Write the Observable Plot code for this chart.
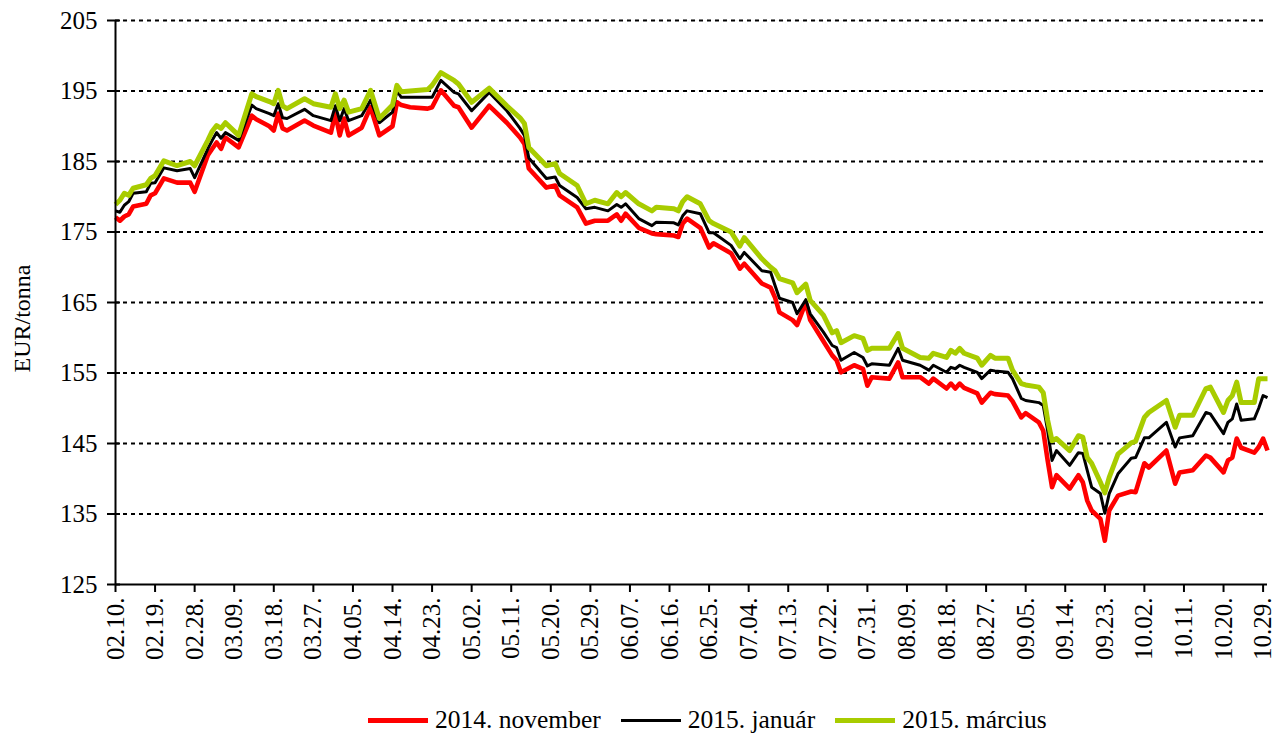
<!DOCTYPE html>
<html>
<head>
<meta charset="utf-8">
<script src="https://cdn.jsdelivr.net/npm/d3@7"></script>
<script src="https://cdn.jsdelivr.net/npm/@observablehq/plot@0.6"></script>
<style>
  html, body { margin: 0; padding: 0; background: #fff; }
  body { font-family: "Liberation Serif", "Times New Roman", serif; width: 1281px; }
  #legend { display: flex; align-items: center; height: 32px; padding-left: 368px; font-size: 25.5px; color: #000; }
  .item { display: flex; align-items: center; margin-right: 20px; }
  .sw { width: 60px; margin-right: 7px; }
</style>
</head>
<body>
<div id="chart"></div>
<div id="legend"></div>
<script>
const seriesNames = ["2014. november", "2015. január", "2015. március"];
const seriesColors = ["#ff0000", "#000000", "#a8cc00"];
const seriesWidths = [4.6, 3, 5];

const dates = [
  "2014-02-10","2014-02-11","2014-02-12","2014-02-13","2014-02-14","2014-02-17","2014-02-18","2014-02-19","2014-02-21","2014-02-24","2014-02-27","2014-02-28",
  "2014-03-03","2014-03-04","2014-03-05","2014-03-06","2014-03-07","2014-03-10","2014-03-13","2014-03-14","2014-03-17","2014-03-18","2014-03-19","2014-03-20","2014-03-21","2014-03-25","2014-03-27","2014-03-31",
  "2014-04-01","2014-04-02","2014-04-03","2014-04-04","2014-04-07","2014-04-09","2014-04-11","2014-04-14","2014-04-15","2014-04-16","2014-04-18","2014-04-22","2014-04-23","2014-04-25","2014-04-28","2014-04-29",
  "2014-05-02","2014-05-06","2014-05-10","2014-05-13","2014-05-14","2014-05-15","2014-05-19","2014-05-21","2014-05-22","2014-05-26","2014-05-28","2014-05-30",
  "2014-06-02","2014-06-04","2014-06-05","2014-06-06","2014-06-09","2014-06-12","2014-06-13","2014-06-17","2014-06-18","2014-06-19","2014-06-20","2014-06-23","2014-06-25","2014-06-26","2014-06-30",
  "2014-07-02","2014-07-03","2014-07-07","2014-07-09","2014-07-10","2014-07-11","2014-07-14","2014-07-15","2014-07-17","2014-07-18","2014-07-21","2014-07-23","2014-07-24","2014-07-25","2014-07-28","2014-07-30","2014-07-31",
  "2014-08-01","2014-08-05","2014-08-07","2014-08-08","2014-08-12","2014-08-14","2014-08-15","2014-08-18","2014-08-19","2014-08-20","2014-08-21","2014-08-22","2014-08-25","2014-08-26","2014-08-28","2014-08-29",
  "2014-09-01","2014-09-02","2014-09-04","2014-09-05","2014-09-08","2014-09-09","2014-09-10","2014-09-11","2014-09-12","2014-09-15","2014-09-17","2014-09-18","2014-09-19","2014-09-20","2014-09-22","2014-09-23","2014-09-24","2014-09-26","2014-09-29","2014-09-30",
  "2014-10-02","2014-10-03","2014-10-07","2014-10-09","2014-10-10","2014-10-13","2014-10-16","2014-10-17","2014-10-20","2014-10-21","2014-10-22","2014-10-23","2014-10-24","2014-10-27","2014-10-28","2014-10-29","2014-10-30"
];

const nov2014 = [
  177.1,176.6,177.2,177.5,178.6,179.0,180.2,180.5,182.6,182.0,182.0,180.7,
  185.9,186.8,187.7,186.8,188.4,187.0,191.5,191.0,190.0,189.4,191.8,189.7,189.4,190.8,190.1,189.1,
  191.8,188.7,191.1,188.7,189.8,192.7,188.7,190.0,193.4,193.0,192.7,192.5,192.7,195.1,192.9,192.7,
  189.8,192.9,190.5,188.4,187.5,184.0,181.3,181.6,180.2,178.5,176.2,176.6,
  176.6,177.5,176.6,177.6,175.6,174.8,174.7,174.5,174.3,176.2,176.9,175.6,172.8,173.4,172.0,
  169.8,170.5,167.7,167.1,165.7,163.6,162.5,161.8,165.0,162.5,159.5,157.5,156.8,155.1,156.1,155.6,153.2,
  154.4,154.2,156.5,154.4,154.4,153.5,154.2,152.8,153.5,152.8,153.5,152.9,152.1,150.8,152.2,152.0,
  151.8,151.0,148.7,149.3,148.0,146.8,142.6,138.8,140.5,138.6,140.5,139.5,136.9,135.5,134.3,131.2,135.5,137.6,138.2,138.1,
  142.2,141.6,144.0,139.3,140.9,141.2,143.3,143.0,140.9,142.6,143.0,145.7,144.4,143.7,144.5,145.7,144.0
];

const jan2015 = [
  178.0,177.8,178.8,179.3,180.5,180.7,181.9,182.0,184.1,183.7,184.0,182.7,
  186.8,188.0,189.1,188.3,189.1,188.0,193.0,192.5,191.8,191.5,193.2,191.2,191.1,192.4,191.5,190.8,
  192.9,190.8,192.5,190.8,191.5,193.7,190.5,192.0,195.0,194.1,194.1,194.1,194.1,196.5,194.8,194.6,
  192.2,194.8,192.2,189.7,188.7,185.5,182.6,182.8,181.6,179.9,178.3,178.5,
  178.0,178.9,178.5,179.0,176.9,175.9,176.4,176.3,176.0,177.3,178.0,177.6,174.9,174.9,173.1,
  171.2,172.1,169.5,169.3,167.4,165.6,165.0,163.4,165.4,163.4,160.8,158.9,158.6,156.8,157.9,157.2,156.0,
  156.3,156.1,158.5,156.8,156.1,155.4,156.1,155.1,155.8,155.6,156.1,155.8,155.1,154.2,155.4,155.3,
  155.1,154.2,151.4,151.1,150.8,150.4,146.8,142.6,144.0,141.9,143.7,143.6,141.2,138.8,137.9,135.1,137.9,140.7,142.9,143.0,
  145.8,145.8,148.0,144.5,145.8,146.1,149.4,149.2,146.4,148.0,148.5,150.6,148.3,148.5,150.0,151.8,151.5
];

const mar2015 = [
  178.9,179.5,180.5,180.2,181.2,181.7,182.6,183.0,185.1,184.4,185.0,184.4,
  188.0,189.3,190.1,189.7,190.5,188.7,194.6,194.2,193.5,193.2,195.1,192.9,192.5,193.9,193.2,192.7,
  194.6,192.5,193.7,192.0,192.5,195.1,191.1,193.0,195.8,194.9,195.0,195.2,195.8,197.6,196.5,196.0,
  193.4,195.4,192.9,191.2,190.4,187.0,184.4,184.7,183.3,181.6,179.0,179.5,
  179.0,180.6,180.0,180.6,179.0,178.0,178.5,178.3,178.0,179.3,180.0,179.0,176.6,176.2,175.0,
  173.0,174.2,171.2,170.0,169.5,168.4,167.8,166.4,167.6,165.3,163.2,160.7,161.0,159.3,160.3,159.9,158.2,
  158.5,158.5,160.6,158.5,157.2,157.1,157.8,157.2,158.2,157.8,158.5,157.8,157.1,156.1,157.5,157.1,
  157.1,155.4,153.5,153.3,153.0,152.2,148.3,145.4,145.7,144.0,146.1,145.9,143.0,142.2,139.5,138.0,140.2,143.5,145.1,145.3,
  148.7,149.4,151.1,147.3,149.0,149.0,152.8,153.0,149.4,151.1,151.8,153.7,150.8,150.8,154.2,154.2,154.2
];

const yTicks = [125, 135, 145, 155, 165, 175, 185, 195, 205];
const gridValues = [135, 145, 155, 165, 175, 185, 195, 205];
const xTickDates = [
  "2014-02-10","2014-02-19","2014-02-28","2014-03-09","2014-03-18","2014-03-27","2014-04-05","2014-04-14","2014-04-23","2014-05-02",
  "2014-05-11","2014-05-20","2014-05-29","2014-06-07","2014-06-16","2014-06-25","2014-07-04","2014-07-13","2014-07-22","2014-07-31",
  "2014-08-09","2014-08-18","2014-08-27","2014-09-05","2014-09-14","2014-09-23","2014-10-02","2014-10-11","2014-10-20","2014-10-29"
];
const xDomain = ["2014-02-10", "2014-10-30"];
const yLabel = "EUR/tonna";

const parseDate = d3.utcParse("%Y-%m-%d");
const seriesValues = [nov2014, jan2015, mar2015];
const lineMarks = seriesNames.map((name, i) =>
  Plot.line(dates.map((d, j) => ({date: parseDate(d), value: seriesValues[i][j]})), {
    x: "date", y: "value", stroke: seriesColors[i], strokeWidth: seriesWidths[i],
    strokeLinejoin: "round", strokeLinecap: "butt"
  })
);

const fontSize = 25;
const chart = Plot.plot({
  width: 1281,
  height: 704,
  marginLeft: 115,
  marginRight: 14,
  marginTop: 20,
  marginBottom: 120,
  style: {fontFamily: "'Liberation Serif', 'Times New Roman', serif", fontSize: fontSize + "px", color: "#000", background: "#fff", overflow: "visible"},
  x: {type: "utc", domain: xDomain.map(parseDate), label: null},
  y: {domain: [125, 205], label: null},
  marks: [
    Plot.ruleY(gridValues, {stroke: "#000", strokeWidth: 2, strokeDasharray: "4,4"}),
    ...lineMarks,
    Plot.ruleX([parseDate(xDomain[0])], {stroke: "#000", strokeWidth: 2}),
    Plot.ruleY([125], {stroke: "#000", strokeWidth: 2}),
    Plot.axisY({ticks: yTicks, tickSize: 8, tickPadding: 10, fontSize: fontSize, strokeWidth: 2}),
    Plot.axisY({ticks: yTicks, tickSize: 5, dx: 5, tickFormat: () => "", strokeWidth: 2}),
    Plot.axisX({ticks: xTickDates.map(parseDate), tickFormat: d3.utcFormat("%m.%d."), tickRotate: -90, tickSize: 8, tickPadding: 5, fontSize: fontSize, strokeWidth: 2}),
    Plot.text([yLabel], {frameAnchor: "left", dx: -93, dy: 16, rotate: -90, textAnchor: "middle", fontSize: 24, text: d => d})
  ]
});
document.getElementById("chart").appendChild(chart);

const legend = document.getElementById("legend");
seriesNames.forEach((name, i) => {
  const item = document.createElement("div");
  item.className = "item";
  const sw = document.createElement("div");
  sw.className = "sw";
  sw.style.height = Math.round(seriesWidths[i]) + "px";
  sw.style.background = seriesColors[i];
  const label = document.createElement("span");
  label.textContent = name;
  item.appendChild(sw);
  item.appendChild(label);
  legend.appendChild(item);
});
</script>
</body>
</html>
